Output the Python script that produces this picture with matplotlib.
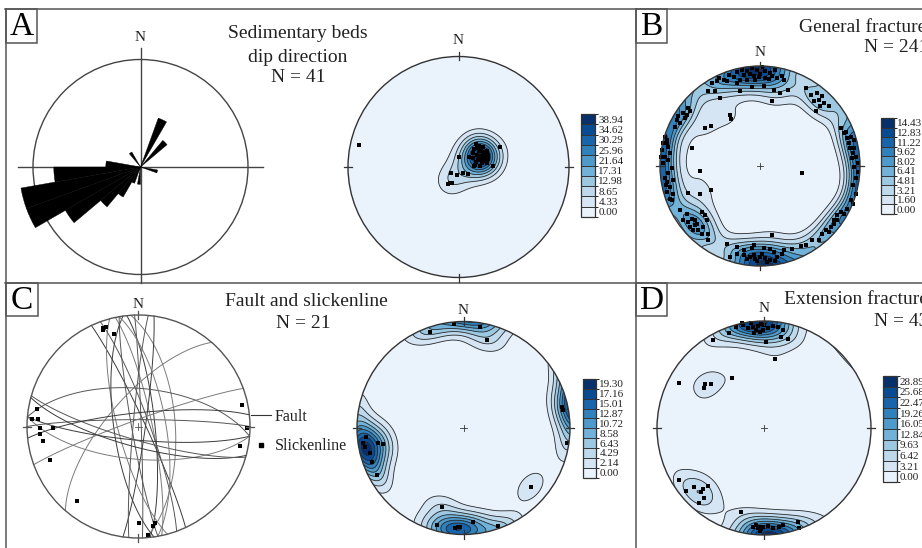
import numpy as np
import matplotlib
matplotlib.use("Agg")
import matplotlib.pyplot as plt
from matplotlib.patches import Circle, Wedge, Rectangle
from matplotlib.colors import ListedColormap, BoundaryNorm
from matplotlib.cm import ScalarMappable
from matplotlib.lines import Line2D

plt.rcParams['font.family'] = ['Liberation Serif', 'DejaVu Serif']

# ---------------- data ----------------
# rose diagram of bedding dip directions (10 degree bins)
rose_bin_start = [20, 40, 100, 180, 200, 210, 220, 230, 240, 250, 260, 270, 320]
rose_count = [3, 2, 1, 1, 1, 2, 3, 5, 7, 7, 5, 2, 1]
rose_bin_width = 10

# poles, equal-area lower hemisphere net coordinates (unit radius, x east, y north)
a_x = [0.158, 0.189, 0.225, 0.143, 0.183, 0.219, 0.255, 0.164, 0.201, 0.240,
       0.270, 0.134, 0.176, 0.219, 0.255, 0.149, 0.195, 0.315, 0.376, 0.098,
       0.210, 0.231, 0.170, 0.207, 0.189, 0.158, 0.240, 0.270, 0.128, 0.213,
       0.140, 0.000, 0.089, 0.044, -0.017, -0.068, -0.062, -0.092, -0.077, -0.897]
a_y = [0.208, 0.190, 0.178, 0.160, 0.148, 0.136, 0.148, 0.109, 0.100, 0.094,
       0.109, 0.078, 0.063, 0.051, 0.039, 0.018, 0.012, 0.012, 0.178, 0.087,
       0.075, 0.118, 0.169, 0.154, 0.078, 0.048, 0.063, 0.069, 0.124, 0.033,
       0.012, 0.094, -0.066, -0.057, -0.072, -0.057, -0.142, -0.154, -0.148, 0.199]
a_levels = [0.00, 4.33, 8.65, 12.98, 17.31, 21.64, 25.96, 30.29, 34.62, 38.94]

b_x = [-0.415, -0.365, -0.315, -0.265, -0.231, -0.181, -0.131, -0.080, -0.030, 0.020,
       0.054, 0.104, 0.154, 0.171, 0.221, 0.238, -0.332, -0.432, -0.198, -0.064,
       0.087, -0.131, -0.013, -0.231, -0.164, -0.097, -0.047, 0.003, 0.054, 0.121,
       -0.482, -0.516, -0.449, -0.198, -0.080, 0.037, 0.137, 0.204, 0.278,
       -0.399, 0.121, -0.305, -0.291, -0.492, -0.546, -0.683, -0.600, -0.492, -0.600,
       -0.717, 0.422, 0.121, 0.556,
       0.456, 0.506, 0.573, 0.590, 0.640, 0.690, 0.539, 0.623, 0.600,
       0.814, 0.858, 0.908, 0.891, 0.941, 0.925, 0.958, 0.975, 0.941, 0.874,
       0.841, 0.975, 0.958, 0.925, 0.941, 0.901, 0.915,
       0.958, 0.925, 0.908, 0.874, 0.841, 0.807, 0.774, 0.774, 0.740, 0.740,
       0.707, 0.690, 0.657, 0.623, 0.590, 0.523,
       -0.231, -0.164, -0.097, -0.047, 0.003, 0.054, 0.104, 0.171, 0.221, 0.137,
       -0.080, -0.064, 0.037, 0.104, 0.238, 0.322, 0.405, 0.456, -0.332, -0.231,
       -0.164, -0.131, -0.030, 0.070, 0.154, -0.298, -0.064, 0.020,
       -0.801, -0.734, -0.683, -0.650, -0.633, -0.700, -0.616, -0.566, -0.583, -0.516,
       -0.667, -0.717, -0.549, -0.533, -0.583, -0.767, -0.516, -0.650,
       -0.955, -0.935, -0.985, -0.951, -0.901, -0.918, -0.995, -0.968, -0.918, -0.935,
       -0.901, -0.868, -0.901, -0.951, -0.884, -0.868, -0.970, -0.935, -0.918, -0.884,
       -0.941, -0.928,
       -0.834, -0.801, -0.767, -0.750, -0.734, -0.717, -0.851, -0.817, -0.700]
b_y = [0.881, 0.864, 0.915, 0.891, 0.938, 0.965, 0.948, 0.982, 0.965, 0.990,
       0.948, 0.931, 0.965, 0.881, 0.898, 0.864, 0.848, 0.848, 0.864, 0.905,
       0.871, 0.864, 0.891, 0.831, 0.915, 0.925, 0.864, 0.925, 0.881, 0.898,
       0.831, 0.747, 0.747, 0.747, 0.791, 0.804, 0.757, 0.730, 0.757,
       0.680, 0.647, 0.513, 0.469, 0.402, 0.379, 0.178, -0.047, -0.235, -0.281,
       -0.265, -0.074, -0.693, 0.546,
       0.781, 0.714, 0.730, 0.663, 0.630, 0.596, 0.647, 0.697, 0.603,
       0.379, 0.345, 0.295, 0.228, 0.178, 0.127, 0.094, 0.027, 0.261, 0.278,
       0.328, -0.057, -0.124, -0.191, -0.007, 0.178, 0.077,
       -0.275, -0.375, -0.342, -0.425, -0.476, -0.459, -0.543, -0.492, -0.576, -0.543,
       -0.610, -0.660, -0.643, -0.677, -0.744, -0.737,
       -0.878, -0.894, -0.911, -0.928, -0.911, -0.918, -0.938, -0.911, -0.878, -0.861,
       -0.817, -0.794, -0.817, -0.827, -0.838, -0.827, -0.804, -0.794, -0.777, -0.811,
       -0.844, -0.928, -0.945, -0.961, -0.945, -0.911, -0.894, -0.878,
       -0.442, -0.476, -0.526, -0.543, -0.576, -0.610, -0.643, -0.610, -0.677, -0.744,
       -0.643, -0.559, -0.492, -0.543, -0.459, -0.543, -0.677, -0.593,
       0.290, 0.228, 0.161, 0.094, 0.127, 0.194, 0.094, 0.027, -0.074, -0.157,
       -0.208, -0.275, -0.325, -0.124, -0.023, -0.141, 0.228, 0.261, 0.060, -0.342,
       -0.191, -0.258,
       0.462, 0.429, 0.529, 0.479, 0.513, 0.580, 0.395, 0.496, 0.546]
b_levels = [0.00, 1.60, 3.21, 4.81, 6.41, 8.02, 9.62, 11.22, 12.83, 14.43]

# faults: dip direction / dip (degrees)
fault_dipdir = [65, 78, 260, 84, 86, 88, 98, 255, 70, 262, 311, 5, 185, 185, 0, 195, 340, 196, 354, 80, 275]
fault_dip = [85, 80, 85, 78, 63, 88, 85, 75, 82, 72, 68, 62, 80, 66, 85, 75, 85, 80, 80, 70, 86]
# slickenlines (net coordinates)
sl_x = [-0.321, -0.292, -0.315, -0.217, -0.913, -0.958, -0.898, -0.884, -0.764, -0.884,
        -0.860, -0.794, -0.549, 0.925, 0.970, 0.910, 0.004, 0.127, 0.148, 0.088]
sl_y = [0.887, 0.893, 0.866, 0.827, 0.154, 0.067, 0.067, -0.010, -0.010, -0.070,
        -0.130, -0.300, -0.668, 0.193, -0.010, -0.172, -0.869, -0.890, -0.869, -0.973]

c_x = [-0.089, 0.155, 0.218, -0.315, -0.916, -0.941, -0.925, -0.878, -0.862, -0.815,
       -0.753, -0.800, 0.922, 0.937, 0.969, 0.631, -0.205, -0.252, -0.080, -0.049,
       -0.033, 0.092, 0.327]
c_y = [0.973, 0.951, 0.826, 0.905, -0.081, -0.144, -0.175, -0.238, -0.316, -0.441,
       -0.150, -0.144, 0.200, 0.169, -0.144, -0.551, -0.745, -0.911, -0.942, -0.926,
       -0.933, -0.880, -0.920]
c_levels = [0.00, 2.14, 4.29, 6.43, 8.58, 10.72, 12.87, 15.01, 17.16, 19.30]

d_x = [-0.324, -0.262, -0.199, -0.153, -0.106, -0.059, -0.028, -0.012, 0.034, 0.081,
       0.128, 0.174, 0.159, 0.221, 0.019, -0.473, -0.037, -0.075, -0.121, -0.206,
       0.003, -0.090,
       0.106, -0.299, -0.797, -0.548, -0.558, -0.495,
       -0.791, -0.729, -0.651, -0.573, -0.526, -0.558, -0.611, -0.589,
       -0.215, -0.106, -0.059, -0.028, -0.044, -0.012, -0.075, 0.034, 0.081, 0.143,
       0.315, 0.330, 0.174, -0.037]
d_y = [0.891, 0.947, 0.963, 0.931, 0.947, 0.953, 0.972, 0.916, 0.931, 0.953,
       0.947, 0.916, 0.847, 0.835, 0.804, 0.822, 0.900, 0.916, 0.978, 0.978,
       0.963, 0.885,
       0.642, 0.470, 0.424, 0.411, 0.371, 0.411,
       -0.486, -0.586, -0.548, -0.573, -0.542, -0.657, -0.698, -0.595,
       -0.782, -0.922, -0.938, -0.947, -0.922, -0.928, -0.906, -0.916, -0.938, -0.922,
       -0.875, -0.938, -0.906, -0.959]
d_levels = [0.00, 3.21, 6.42, 9.63, 12.84, 16.05, 19.26, 22.47, 25.68, 28.89]

# ---------------- figure ----------------
W, H = 922, 548
fig = plt.figure(figsize=(W / 100, H / 100), dpi=100)
fig.patch.set_facecolor('white')

ov = fig.add_axes([0, 0, 1, 1])
ov.set_xlim(0, W)
ov.set_ylim(H, 0)
ov.axis('off')

FRAME = '#555555'
for (x0, y0, x1, y1) in [(5, 9, W, 9), (6, 9, 6, H), (636, 9, 636, H), (5, 283, W, 283)]:
    ov.plot([x0, x1], [y0, y1], color=FRAME, lw=1.1)
for (x0, y0, x1, y1, lab) in [(6, 9, 37, 43, 'A'), (636, 9, 667, 43, 'B'),
                              (6, 283, 38, 316, 'C'), (636, 283, 667, 316, 'D')]:
    ov.add_patch(Rectangle((x0, y0), x1 - x0, y1 - y0, fill=False, ec=FRAME, lw=1.1))
    ov.text((x0 + x1) / 2, (y0 + y1) / 2 + 1, lab, ha='center', va='center', fontsize=24)

TFS = 14
ov.text(298, 33, 'Sedimentary beds', ha='center', va='center', fontsize=TFS, color='#222')
ov.text(298, 57, 'dip direction', ha='center', va='center', fontsize=TFS, color='#222')
ov.text(298, 78, 'N = 41', ha='center', va='center', fontsize=TFS, color='#222')
ov.text(799, 28, 'General fractures', ha='left', va='center', fontsize=TFS, color='#222')
ov.text(864, 47, 'N = 241', ha='left', va='center', fontsize=TFS, color='#222')
ov.text(306, 302, 'Fault and slickenline', ha='center', va='center', fontsize=TFS, color='#222')
ov.text(303, 323, 'N = 21', ha='center', va='center', fontsize=TFS, color='#222')
ov.text(784, 300, 'Extension fractures', ha='left', va='center', fontsize=TFS, color='#222')
ov.text(874, 321, 'N = 43', ha='left', va='center', fontsize=TFS, color='#222')

colors = plt.cm.Blues(np.linspace(0.07, 1.0, 10))
cmap10 = ListedColormap(colors)


def net_axes(cx, cy, R, pad=1.2):
    ax = fig.add_axes([(cx - pad * R) / W, 1 - (cy + pad * R) / H, 2 * pad * R / W, 2 * pad * R / H])
    ax.set_xlim(-pad, pad)
    ax.set_ylim(-pad, pad)
    ax.axis('off')
    return ax


def xy_to_vec(x, y):
    x = np.asarray(x, float)
    y = np.asarray(y, float)
    r2 = np.minimum(x ** 2 + y ** 2, 2.0)
    s = np.sqrt(2 - r2)
    return np.stack([x * s, y * s, r2 - 1], axis=-1)


def vec_to_xy(v):
    e, n, z = v[..., 0], v[..., 1], v[..., 2]
    sg = np.where(z > 0, -1.0, 1.0)
    e, n, z = e * sg, n * sg, z * sg
    d = np.sqrt(1 - z)
    return e / d, n / d


def frame_net(ax, R, n_off, edge='#333333', cross=True):
    ax.add_patch(Circle((0, 0), 1, fill=False, ec=edge, lw=1.0, zorder=8))
    tl = 4.0 / R
    for ang in (0, 90, 180, 270):
        a = np.radians(ang)
        ax.plot([np.sin(a) * (1 - tl), np.sin(a) * (1 + tl)],
                [np.cos(a) * (1 - tl), np.cos(a) * (1 + tl)], color=edge, lw=0.9, zorder=8)
    if cross:
        ax.plot([-tl * 0.8, tl * 0.8], [0, 0], color=edge, lw=0.6, zorder=8)
        ax.plot([0, 0], [-tl * 0.8, tl * 0.8], color=edge, lw=0.6, zorder=8)
    ax.text(0, 1 + n_off / R, 'N', ha='center', va='center', fontsize=11, color='#222')


def density_net(cx, cy, R, n_off, px, py, levels, K, cross=True):
    ax = net_axes(cx, cy, R)
    g = np.linspace(-1.03, 1.03, 261)
    gx, gy = np.meshgrid(g, g)
    P = xy_to_vec(px, py)
    P = P / np.linalg.norm(P, axis=-1, keepdims=True)
    G = xy_to_vec(gx, gy)
    c = np.clip(np.abs(G @ P.T), 0, 1)
    dens = np.exp(K * (c - 1)).sum(-1)
    inside = (gx ** 2 + gy ** 2) <= 1.0
    dens = dens / dens[inside].max() * levels[-1] * 1.06
    lv = list(levels) + [levels[-1] * 100]
    cs = ax.contourf(gx, gy, dens, levels=lv, colors=colors, zorder=1)
    cl = ax.contour(gx, gy, dens, levels=levels[1:], colors='#2b2b2b', linewidths=0.6, zorder=2)
    clip = Circle((0, 0), 1, transform=ax.transData)
    cs.set_clip_path(clip)
    cl.set_clip_path(clip)
    ax.scatter(px, py, s=5.5, c='black', marker='s', linewidths=0, zorder=5)
    frame_net(ax, R, n_off, cross=cross)
    return ax


def add_cbar(x0, y0, x1, y1, levels):
    cax = fig.add_axes([x0 / W, 1 - y1 / H, (x1 - x0) / W, (y1 - y0) / H])
    sm = ScalarMappable(norm=BoundaryNorm(np.arange(11), 10), cmap=cmap10)
    cb = fig.colorbar(sm, cax=cax, ticks=np.arange(10) + 0.5, drawedges=True)
    cb.ax.set_yticklabels(['%.2f' % v for v in levels], fontsize=8, color='#222')
    cb.ax.tick_params(length=0, pad=2.5)
    cb.outline.set_linewidth(0.9)
    cb.outline.set_edgecolor('#333')
    cb.dividers.set_linewidth(0.7)
    cb.dividers.set_color('#333')


# ---- A: rose diagram ----
axr = net_axes(140.5, 167, 107.5)
axr.add_patch(Circle((0, 0), 1, fill=False, ec='#444', lw=1.0, zorder=1))
axr.plot([-1.14, 1.14], [0, 0], color='#444', lw=1.0, zorder=1)
axr.plot([0, 0], [-1.08, 1.11], color='#444', lw=1.0, zorder=1)
rose_scale = 6.2
for b, n in zip(rose_bin_start, rose_count):
    axr.add_patch(Wedge((0, 0), n / rose_scale, 90 - (b + rose_bin_width), 90 - b,
                        facecolor='black', edgecolor='black', lw=0.3, zorder=3))
axr.text(0, 1.11 + 10 / 107.5, 'N', ha='center', va='center', fontsize=11, color='#222')

# ---- A: density ----
density_net(458.5, 167, 110.5, 16, a_x, a_y, a_levels, K=48, cross=False)
add_cbar(581, 114, 595, 217, a_levels)

# ---- B ----
density_net(760, 166, 100, 13.5, b_x, b_y, b_levels, K=40)
add_cbar(881, 118, 893.5, 214, b_levels)

# ---- C: faults ----
axf = net_axes(138.5, 426.5, 111.5)
for i, (dd, dp) in enumerate(zip(fault_dipdir, fault_dip)):
    t = np.linspace(0, np.pi, 181)
    s = np.radians(dd - 90)
    d = np.radians(dd)
    p = np.radians(dp)
    sv = np.array([np.sin(s), np.cos(s), 0.0])
    dv = np.array([np.sin(d) * np.cos(p), np.cos(d) * np.cos(p), -np.sin(p)])
    v = np.cos(t)[:, None] * sv + np.sin(t)[:, None] * dv
    gx_, gy_ = vec_to_xy(v)
    axf.plot(gx_, gy_, color=['#3a3a3a', '#7a7a7a', '#555555'][i % 3], lw=0.7, zorder=2)
axf.scatter(sl_x, sl_y, s=6.5, c='black', marker='s', linewidths=0, zorder=5)
frame_net(axf, 111.5, 10, edge='#555555')
leg_line = Line2D([], [], color='#333', lw=0.8)
leg_dot = Line2D([], [], color='black', marker='s', ms=2.3, lw=0)
axf.legend([leg_line, leg_dot], ['Fault', 'Slickenline'], loc='center left',
           bbox_to_anchor=(251 / W, 1 - 431.5 / H), bbox_transform=fig.transFigure,
           frameon=False, fontsize=11.5, handlelength=1.25, handletextpad=0.25,
           labelspacing=0.85, borderpad=0, borderaxespad=0, labelcolor='#222')

# ---- C: density ----
density_net(463.5, 428, 106.5, 11, c_x, c_y, c_levels, K=40)
add_cbar(582.5, 379, 596, 477.5, c_levels)

# ---- D ----
density_net(764, 428, 107, 12, d_x, d_y, d_levels, K=38)
add_cbar(883, 376, 896.5, 482, d_levels)

fig.savefig('out.png', dpi=100)
